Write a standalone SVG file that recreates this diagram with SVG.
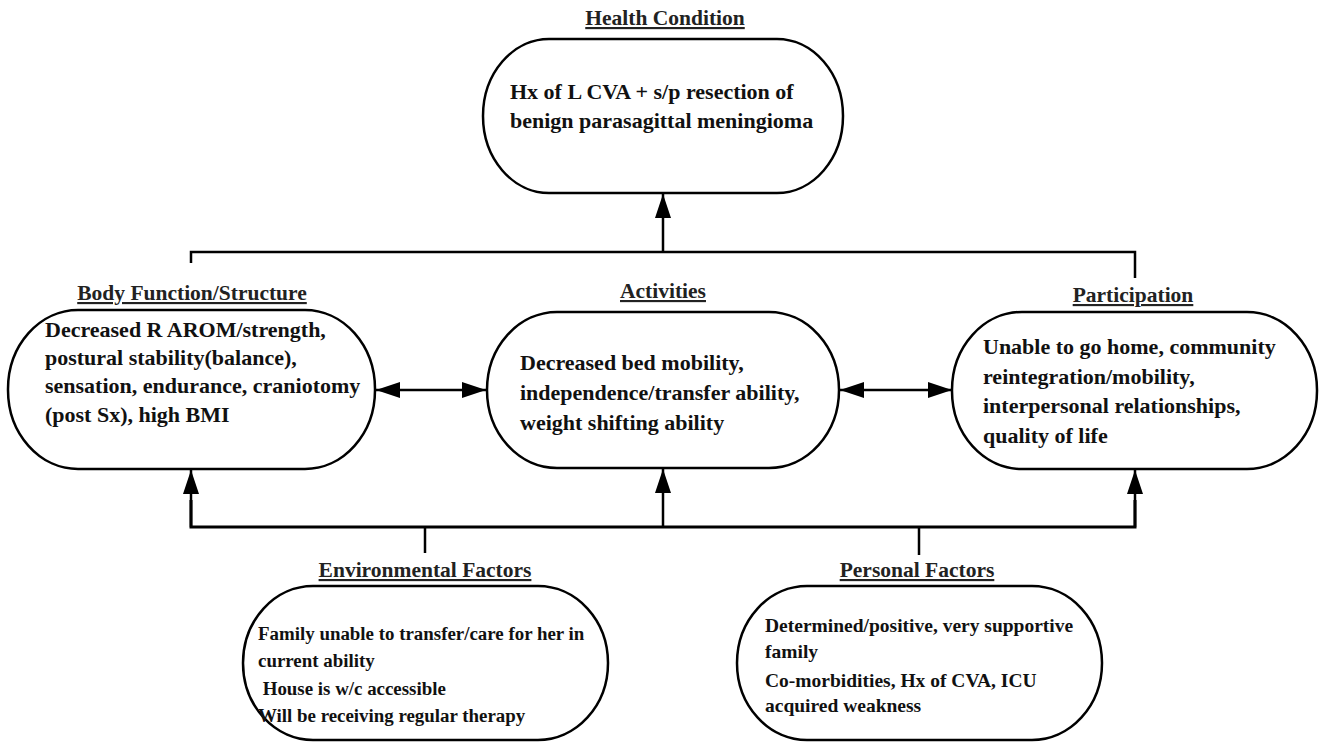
<svg xmlns="http://www.w3.org/2000/svg" width="1326" height="742" viewBox="0 0 1326 742">
<defs>
<marker id="ah" markerUnits="userSpaceOnUse" markerWidth="26" markerHeight="16" refX="24" refY="8" orient="auto-start-reverse">
<path d="M0,0 L24,8 L0,16 Z" fill="#000"/>
</marker>
</defs>
<style>
.box{fill:#fff;stroke:#000;stroke-width:2.5}
.t{font-family:"Liberation Serif","Times New Roman",serif;font-weight:bold;font-size:22px;fill:#111}
.s{font-family:"Liberation Serif","Times New Roman",serif;font-weight:bold;font-size:19.5px;fill:#111}
.e{font-size:18.9px}
.h{font-family:"Liberation Serif","Times New Roman",serif;font-weight:bold;font-size:21.5px;fill:#222;text-decoration:underline;text-anchor:middle}
.c{fill:none;stroke:#000;stroke-width:2.5}
</style>
<rect width="1326" height="742" fill="#fff"/>
<g id="connectors">
<polyline class="c" points="191,263 191,252 1135,252 1135,278"/>
<line class="c" x1="663" y1="252" x2="663" y2="194" marker-end="url(#ah)"/>
<line class="c" x1="376" y1="390" x2="486" y2="390" marker-start="url(#ah)" marker-end="url(#ah)"/>
<line class="c" x1="840" y1="390" x2="952" y2="390" marker-start="url(#ah)" marker-end="url(#ah)"/>
<polyline class="c" points="191,500 191,527 1135,527 1135,500" style="stroke-width:3"/>
<line class="c" x1="191" y1="527" x2="191" y2="470" marker-end="url(#ah)"/>
<line class="c" x1="663" y1="527" x2="663" y2="469" marker-end="url(#ah)"/>
<line class="c" x1="1135" y1="527" x2="1135" y2="470" marker-end="url(#ah)"/>
<line class="c" x1="425" y1="527" x2="425" y2="553"/>
<line class="c" x1="919" y1="527" x2="919" y2="555"/>
</g>
<g id="health-condition">
<text class="h" x="665" y="25">Health Condition</text>
<rect class="box" x="483" y="39" width="360" height="154" rx="66" ry="77"/>
<text class="t" x="510" y="99">Hx of L CVA + s/p resection of</text>
<text class="t" x="510" y="128">benign parasagittal meningioma</text>
</g>
<g id="body-function">
<text class="h" x="192" y="300">Body Function/Structure</text>
<rect class="box" x="8" y="310" width="367" height="159" rx="70" ry="79"/>
<text class="t" x="45" y="337">Decreased R AROM/strength,</text>
<text class="t" x="45" y="365">postural stability(balance),</text>
<text class="t" x="45" y="393">sensation, endurance, craniotomy</text>
<text class="t" x="45" y="422">(post Sx), high BMI</text>
</g>
<g id="activities">
<text class="h" x="663" y="298">Activities</text>
<rect class="box" x="487" y="312" width="352" height="156" rx="70" ry="78"/>
<text class="t" x="520" y="370">Decreased bed mobility,</text>
<text class="t" x="520" y="400">independence/transfer ability,</text>
<text class="t" x="520" y="430">weight shifting ability</text>
</g>
<g id="participation">
<text class="h" x="1133" y="302">Participation</text>
<rect class="box" x="952" y="312" width="365" height="157" rx="70" ry="78"/>
<text class="t" x="983" y="354">Unable to go home, community</text>
<text class="t" x="983" y="384">reintegration/mobility,</text>
<text class="t" x="983" y="413">interpersonal relationships,</text>
<text class="t" x="983" y="443">quality of life</text>
</g>
<g id="environmental-factors">
<text class="h" x="425" y="577">Environmental Factors</text>
<rect class="box" x="243" y="586" width="365" height="154" rx="70" ry="77"/>
<text class="s e" x="258" y="640">Family unable to transfer/care for her in</text>
<text class="s e" x="258" y="667">current ability</text>
<text class="s e" x="258" y="695" xml:space="preserve"> House is w/c accessible</text>
<text class="s e" x="258" y="722">Will be receiving regular therapy</text>
</g>
<g id="personal-factors">
<text class="h" x="917" y="577">Personal Factors</text>
<rect class="box" x="737" y="586" width="365" height="154" rx="70" ry="77"/>
<text class="s" x="765" y="632">Determined/positive, very supportive</text>
<text class="s" x="765" y="658">family</text>
<text class="s" x="765" y="687">Co-morbidities, Hx of CVA, ICU</text>
<text class="s" x="765" y="712">acquired weakness</text>
</g>
</svg>
